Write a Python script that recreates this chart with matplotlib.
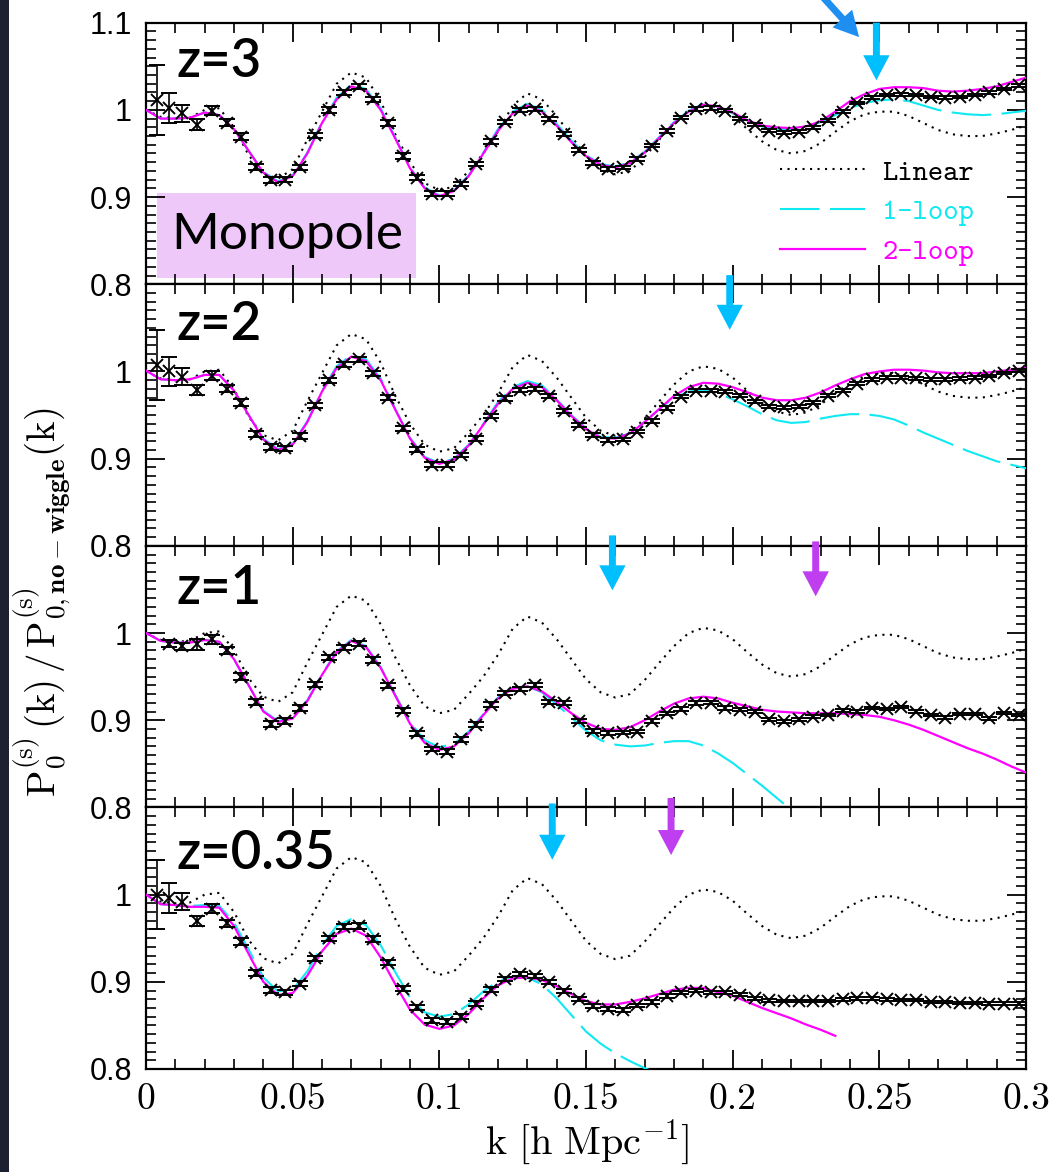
import matplotlib
matplotlib.use('Agg')
import matplotlib.pyplot as plt
from matplotlib.patches import Rectangle
from matplotlib.ticker import MultipleLocator
import numpy as np

plt.rcParams['mathtext.fontset'] = 'cm'

# ---- data ----
K_CURVE = [0.000, 0.005, 0.010, 0.015, 0.020, 0.025, 0.030, 0.035, 0.040, 0.045,
           0.050, 0.055, 0.060, 0.065, 0.070, 0.075, 0.080, 0.085, 0.090, 0.095,
           0.100, 0.105, 0.110, 0.115, 0.120, 0.125, 0.130, 0.135, 0.140, 0.145,
           0.150, 0.155, 0.160, 0.165, 0.170, 0.175, 0.180, 0.185, 0.190, 0.195,
           0.200, 0.205, 0.210, 0.215, 0.220, 0.225, 0.230, 0.235, 0.240, 0.245,
           0.250, 0.255, 0.260, 0.265, 0.270, 0.275, 0.280, 0.285, 0.290, 0.295,
           0.300]

# linear theory ratio (same in every panel)
LINEAR = [1.000, 0.992, 0.990, 0.991, 1.000, 1.002, 0.980, 0.948, 0.927, 0.921,
          0.932, 0.966, 0.998, 1.030, 1.043, 1.037, 1.010, 0.972, 0.940, 0.916,
          0.908, 0.912, 0.930, 0.950, 0.975, 1.005, 1.019, 1.012, 0.993, 0.970,
          0.947, 0.932, 0.926, 0.930, 0.946, 0.966, 0.985, 1.000, 1.006, 1.003,
          0.993, 0.978, 0.964, 0.954, 0.950, 0.953, 0.962, 0.975, 0.987, 0.995,
          0.998, 0.998, 0.993, 0.985, 0.977, 0.972, 0.970, 0.970, 0.973, 0.977,
          0.982]

# z=3
Z3_TWO = [1.000, 0.990, 0.990, 0.991, 0.997, 0.994, 0.978, 0.953, 0.928, 0.917,
          0.924, 0.950, 0.985, 1.012, 1.027, 1.022, 1.000, 0.967, 0.933, 0.910,
          0.901, 0.907, 0.924, 0.950, 0.976, 0.996, 1.005, 0.998, 0.982, 0.963,
          0.947, 0.937, 0.934, 0.939, 0.951, 0.968, 0.985, 0.998, 1.006, 1.004,
          0.997, 0.988, 0.982, 0.980, 0.979, 0.981, 0.987, 0.998, 1.010, 1.018,
          1.024, 1.026, 1.026, 1.025, 1.022, 1.021, 1.022, 1.024, 1.027, 1.032,
          1.037]
Z3_ONE = [1.000, 0.990, 0.990, 0.991, 0.997, 0.994, 0.978, 0.953, 0.929, 0.918,
          0.925, 0.951, 0.986, 1.014, 1.029, 1.024, 1.002, 0.968, 0.934, 0.911,
          0.902, 0.908, 0.925, 0.951, 0.978, 0.998, 1.007, 1.000, 0.984, 0.965,
          0.948, 0.938, 0.935, 0.940, 0.952, 0.969, 0.986, 0.999, 1.007, 1.004,
          0.996, 0.988, 0.981, 0.978, 0.978, 0.980, 0.986, 0.994, 1.002, 1.008,
          1.011, 1.012, 1.010, 1.005, 1.000, 0.997, 0.995, 0.994, 0.995, 0.997,
          0.999]

# z=2
Z2_TWO = [1.001, 0.991, 0.990, 0.991, 0.996, 0.996, 0.978, 0.950, 0.922, 0.910,
          0.916, 0.942, 0.977, 1.004, 1.017, 1.012, 0.990, 0.956, 0.923, 0.901,
          0.894, 0.899, 0.915, 0.939, 0.963, 0.980, 0.987, 0.982, 0.967, 0.949,
          0.934, 0.924, 0.923, 0.929, 0.942, 0.957, 0.972, 0.982, 0.987, 0.986,
          0.982, 0.976, 0.970, 0.967, 0.967, 0.970, 0.976, 0.984, 0.991, 0.997,
          1.000, 1.002, 1.002, 1.001, 0.999, 0.998, 0.998, 0.998, 1.000, 1.002,
          1.004]
Z2_ONE = [1.001, 0.991, 0.990, 0.991, 0.996, 0.996, 0.978, 0.950, 0.923, 0.911,
          0.917, 0.943, 0.978, 1.006, 1.019, 1.014, 0.992, 0.957, 0.924, 0.902,
          0.895, 0.900, 0.916, 0.940, 0.965, 0.982, 0.989, 0.984, 0.968, 0.950,
          0.935, 0.925, 0.924, 0.929, 0.942, 0.957, 0.970, 0.977, 0.979, 0.975,
          0.968, 0.960, 0.951, 0.944, 0.941, 0.942, 0.946, 0.949, 0.951, 0.951,
          0.949, 0.945, 0.938, 0.930, 0.923, 0.916, 0.909, 0.903, 0.897, 0.893,
          0.889]

# z=1
Z1_TWO = [1.000, 0.991, 0.989, 0.989, 0.992, 0.990, 0.970, 0.940, 0.910, 0.898,
          0.902, 0.922, 0.952, 0.978, 0.991, 0.984, 0.960, 0.928, 0.896, 0.874,
          0.866, 0.870, 0.885, 0.906, 0.925, 0.936, 0.939, 0.933, 0.921, 0.908,
          0.897, 0.890, 0.889, 0.892, 0.900, 0.910, 0.919, 0.925, 0.927, 0.925,
          0.920, 0.916, 0.912, 0.910, 0.909, 0.908, 0.908, 0.908, 0.907, 0.906,
          0.904, 0.900, 0.895, 0.889, 0.882, 0.875, 0.868, 0.862, 0.855, 0.847,
          0.840]
Z1_ONE = [1.000, 0.991, 0.989, 0.989, 0.992, 0.990, 0.970, 0.940, 0.911, 0.899,
          0.903, 0.923, 0.953, 0.979, 0.992, 0.985, 0.961, 0.929, 0.898, 0.877,
          0.869, 0.873, 0.887, 0.907, 0.926, 0.937, 0.939, 0.932, 0.918, 0.903,
          0.888, 0.877, 0.872, 0.870, 0.871, 0.874, 0.876, 0.876, 0.871, 0.862,
          0.851, 0.838, 0.825, 0.811, 0.797]

# z=0.35
Z035_TWO = [1.000, 0.989, 0.988, 0.986, 0.986, 0.985, 0.964, 0.932, 0.900, 0.885,
            0.887, 0.907, 0.935, 0.955, 0.961, 0.953, 0.928, 0.897, 0.868, 0.851,
            0.846, 0.850, 0.863, 0.881, 0.896, 0.904, 0.905, 0.902, 0.895, 0.886,
            0.878, 0.874, 0.874, 0.877, 0.881, 0.886, 0.891, 0.893, 0.893, 0.888,
            0.884, 0.877, 0.870, 0.864, 0.858, 0.851, 0.845, 0.838]
Z035_ONE = [1.000, 0.989, 0.988, 0.987, 0.988, 0.987, 0.968, 0.937, 0.905, 0.889,
            0.891, 0.912, 0.942, 0.964, 0.972, 0.965, 0.942, 0.911, 0.882, 0.865,
            0.860, 0.863, 0.874, 0.889, 0.901, 0.906, 0.905, 0.897, 0.881, 0.862,
            0.843, 0.829, 0.818, 0.809, 0.801, 0.794]

# N-body points
K_DATA = [0.0037, 0.0080, 0.0122, 0.0175, 0.0225, 0.0275, 0.0325, 0.0375, 0.0425, 0.0475,
          0.0525, 0.0575, 0.0625, 0.0675, 0.0725, 0.0775, 0.0825, 0.0875, 0.0925, 0.0975,
          0.1025, 0.1075, 0.1125, 0.1175, 0.1225, 0.1275, 0.1325, 0.1375, 0.1425, 0.1475,
          0.1525, 0.1575, 0.1625, 0.1675, 0.1725, 0.1775, 0.1825, 0.1875, 0.1925, 0.1975,
          0.2025, 0.2075, 0.2125, 0.2175, 0.2225, 0.2275, 0.2325, 0.2375, 0.2425, 0.2475,
          0.2525, 0.2575, 0.2625, 0.2675, 0.2725, 0.2775, 0.2825, 0.2875, 0.2925, 0.2975]
Z3_DATA = [1.011, 1.002, 0.996, 0.983, 0.999, 0.985, 0.969, 0.934, 0.920, 0.920,
           0.934, 0.971, 1.000, 1.020, 1.027, 1.012, 0.985, 0.947, 0.922, 0.904,
           0.904, 0.915, 0.938, 0.964, 0.986, 1.000, 1.001, 0.990, 0.972, 0.954,
           0.939, 0.932, 0.934, 0.944, 0.959, 0.976, 0.991, 1.001, 1.002, 0.999,
           0.990, 0.983, 0.976, 0.974, 0.975, 0.980, 0.988, 0.998, 1.008, 1.014,
           1.017, 1.018, 1.017, 1.015, 1.014, 1.015, 1.017, 1.020, 1.024, 1.028]
Z2_DATA = [1.007, 1.000, 0.994, 0.979, 0.995, 0.980, 0.964, 0.928, 0.913, 0.912,
           0.926, 0.961, 0.990, 1.008, 1.014, 0.998, 0.970, 0.935, 0.911, 0.893,
           0.893, 0.904, 0.923, 0.949, 0.969, 0.979, 0.980, 0.972, 0.955, 0.939,
           0.927, 0.921, 0.922, 0.931, 0.943, 0.958, 0.971, 0.978, 0.978, 0.977,
           0.972, 0.966, 0.960, 0.959, 0.960, 0.964, 0.972, 0.978, 0.986, 0.991,
           0.993, 0.993, 0.992, 0.991, 0.991, 0.992, 0.993, 0.995, 0.998, 1.001]
Z1_DATA = [None, 0.988, 0.985, 0.987, 0.993, 0.980, 0.950, 0.921, 0.896, 0.899,
           0.914, 0.941, 0.972, 0.983, 0.988, 0.969, 0.940, 0.911, 0.885, 0.867,
           0.864, 0.878, 0.895, 0.918, 0.931, 0.936, 0.940, 0.921, 0.920, 0.899,
           0.888, 0.885, 0.886, 0.887, 0.899, 0.908, 0.913, 0.920, 0.920, 0.914,
           0.912, 0.910, 0.901, 0.899, 0.901, 0.904, 0.906, 0.911, 0.910, 0.914,
           0.913, 0.915, 0.910, 0.906, 0.903, 0.907, 0.907, 0.902, 0.908, 0.906]
Z035_DATA = [1.000, 0.996, 0.992, 0.970, 0.984, 0.967, 0.946, 0.910, 0.891, 0.888,
             0.898, 0.927, 0.950, 0.963, 0.964, 0.949, 0.922, 0.892, 0.871, 0.856,
             0.854, 0.860, 0.875, 0.891, 0.903, 0.909, 0.907, 0.900, 0.890, 0.880,
             0.872, 0.869, 0.868, 0.873, 0.877, 0.884, 0.888, 0.890, 0.888, 0.888,
             0.885, 0.881, 0.879, 0.878, 0.878, 0.878, 0.878, 0.880, 0.881, 0.881,
             0.880, 0.879, 0.879, 0.877, 0.877, 0.876, 0.876, 0.875, 0.875, 0.875]
ERR = [0.040, 0.017, 0.010, 0.006, 0.005, 0.004, 0.004, 0.0035, 0.0035, 0.003,
       0.003, 0.003, 0.003, 0.003, 0.003, 0.003, 0.003, 0.003, 0.0028, 0.0028,
       0.0028, 0.0026, 0.0026, 0.0026, 0.0025, 0.0025, 0.0024, 0.0024, 0.0023, 0.0023,
       0.0022, 0.0022, 0.0021, 0.0021, 0.002, 0.002, 0.002, 0.002, 0.0019, 0.0019,
       0.0018, 0.0018, 0.0018, 0.0017, 0.0017, 0.0017, 0.0016, 0.0016, 0.0016, 0.0015,
       0.0015, 0.0015, 0.0015, 0.0014, 0.0014, 0.0014, 0.0014, 0.0013, 0.0013, 0.0013]
ERR_Z1 = [0.0, 0.004, 0.004] + ERR[3:]

Z_LABELS = ['z=3', 'z=2', 'z=1', 'z=0.35']
Z_LABEL_Y = [0.85, 0.847, 0.837, 0.822]
# k-positions of the marker arrows (None = no arrow)
ARROW_CYAN = [0.249, 0.199, 0.159, 0.1385]
ARROW_PURPLE = [None, None, 0.2283, 0.179]

panels = [
    (Z3_DATA, ERR, Z3_ONE, Z3_TWO),
    (Z2_DATA, ERR, Z2_ONE, Z2_TWO),
    (Z1_DATA, ERR_Z1, Z1_ONE, Z1_TWO),
    (Z035_DATA, ERR, Z035_ONE, Z035_TWO),
]

C_ONE = '#10e8f2'
C_TWO = '#ff00ff'
C_ARR_CYAN = '#00bfff'
C_ARR_PURPLE = '#bf3ef0'
C_ARR_BLUE = '#1e8ff0'

W, H = 1052, 1172
fig, axes = plt.subplots(4, 1, figsize=(W / 100, H / 100), dpi=100, sharex=True,
                         gridspec_kw=dict(hspace=0))
fig.subplots_adjust(left=146 / W, right=1026 / W, top=1 - 22.7 / H, bottom=1 - 1069 / H)

kc = np.array(K_CURVE)
kd = np.array(K_DATA)

for i, (ax, (dat, err, one, two)) in enumerate(zip(axes, panels)):
    d = np.array([np.nan if v is None else v for v in dat], dtype=float)
    lin_h, = ax.plot(kc, LINEAR, color='black', lw=1.5, ls=(0, (1, 2.6)), zorder=2)
    one_h, = ax.plot(kc[:len(one)], one, color=C_ONE, lw=1.5, dashes=(19, 5), zorder=3)
    two_h, = ax.plot(kc[:len(two)], two, color=C_TWO, lw=1.6, zorder=4)
    ax.errorbar(kd, d, yerr=err, fmt='x', color='black', ms=9, mew=1.4,
                elinewidth=1.2, capsize=5.5, capthick=1.4, zorder=5)

    ax.set_xlim(0, 0.3)
    ax.set_ylim(0.8, 1.1)
    ax.xaxis.set_major_locator(MultipleLocator(0.05))
    ax.xaxis.set_minor_locator(MultipleLocator(0.01))
    ax.set_yticks([0.8, 0.9, 1.0, 1.1])
    ax.set_yticklabels(['0.8', '0.9', '1', '1.1' if i == 0 else ''],
                       fontfamily='Liberation Sans', fontsize=22)
    ax.yaxis.set_minor_locator(MultipleLocator(0.01))
    ax.tick_params(which='both', direction='in', top=True, right=True)
    ax.tick_params(which='major', length=14, width=1.3, pad=10)
    ax.tick_params(which='minor', length=7, width=1.2)
    for s in ax.spines.values():
        s.set_linewidth(1.6)

    ax.text(0.035, Z_LABEL_Y[i], Z_LABELS[i], transform=ax.transAxes, fontsize=38,
            fontfamily='Lato', fontweight='semibold', ha='left', va='center', zorder=6)

    # arrows marking the k-limits
    arr = dict(arrowstyle='simple,head_length=18,head_width=19,tail_width=5',
               mutation_scale=1, shrinkA=0, shrinkB=0, lw=0)
    top_y = [1.0, 1.035, 1.04, 1.015][i]
    tip_y = [0.78, 0.826, 0.83, 0.80][i]
    if ARROW_CYAN[i] is not None:
        ax.annotate('', xy=(ARROW_CYAN[i], tip_y), xytext=(ARROW_CYAN[i], top_y),
                    xycoords=('data', 'axes fraction'), textcoords=('data', 'axes fraction'),
                    arrowprops=dict(color=C_ARR_CYAN, **arr), annotation_clip=False, zorder=7)
    if ARROW_PURPLE[i] is not None:
        ptop = [0, 0, 1.017, 1.036][i]
        ptip = [0, 0, 0.807, 0.818][i]
        ax.annotate('', xy=(ARROW_PURPLE[i], ptip), xytext=(ARROW_PURPLE[i], ptop),
                    xycoords=('data', 'axes fraction'), textcoords=('data', 'axes fraction'),
                    arrowprops=dict(color=C_ARR_PURPLE, **arr), annotation_clip=False, zorder=7)

    if i == 0:
        ax.add_patch(Rectangle((0.0125, 0.025), 0.2945, 0.325, transform=ax.transAxes,
                               facecolor='#edc8f8', edgecolor='none', zorder=1.5))
        ax.text(0.16, 0.19, 'Monopole', transform=ax.transAxes, fontsize=37,
                fontfamily='Lato', ha='center', va='center', zorder=6)
        ax.annotate('', xy=(0.2431, 0.945), xytext=(0.229, 1.12),
                    xycoords=('data', 'axes fraction'), textcoords=('data', 'axes fraction'),
                    arrowprops=dict(color=C_ARR_BLUE, **arr), annotation_clip=False, zorder=7)
        ax.legend([lin_h, one_h, two_h], ['Linear', '1-loop', '2-loop'],
                  prop=dict(family='cmtt10', size=21), labelcolor='linecolor',
                  frameon=False, loc='upper left', bbox_to_anchor=(0.7205, 0.478),
                  handlelength=2.9, handletextpad=0.6, labelspacing=0.42,
                  borderpad=0, borderaxespad=0)

axes[-1].set_xticks([0, 0.05, 0.1, 0.15, 0.2, 0.25, 0.3])
axes[-1].set_xticklabels(['0', '0.05', '0.1', '0.15', '0.2', '0.25', '0.3'],
                         fontfamily='cmr10', fontsize=27)

fig.text(587 / W, 1 - 1143 / H, r'$\mathrm{k\ [h\ Mpc^{-1}]}$', fontsize=29,
         ha='center', va='center')
fig.text(42 / W, 1 - 602 / H,
         r'$\mathrm{P_0^{(s)}\,(k)\,/\,P^{(s)}_{0,\mathbf{no-wiggle}}(k)}$',
         fontsize=28, rotation=90, ha='center', va='center')

# dark strip along the left edge of the screenshot
fig.add_artist(Rectangle((0, 0), 9 / W, 1, transform=fig.transFigure,
                         facecolor='#1d2030', edgecolor='none'))

fig.savefig('out.png', dpi=100)
